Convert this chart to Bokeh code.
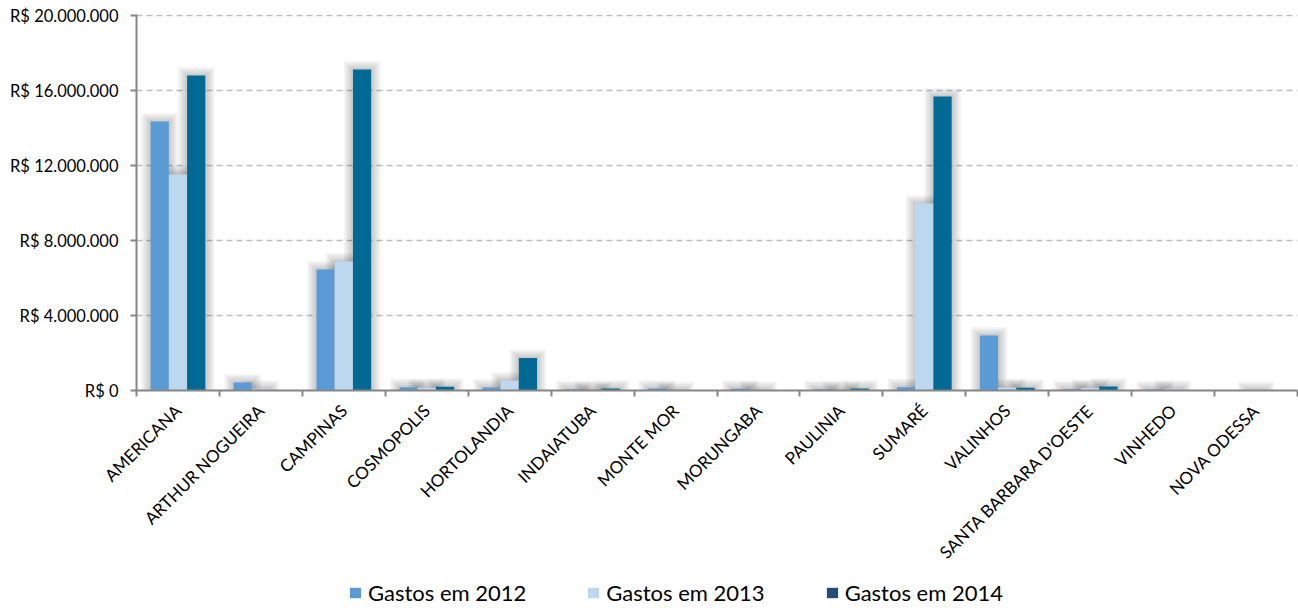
import math
from bokeh.plotting import figure
from bokeh.layouts import column
from bokeh.models import Range1d, FixedTicker, Legend, LegendItem
from bokeh.embed import file_html
from bokeh.resources import INLINE

cities = ["AMERICANA", "ARTHUR NOGUEIRA", "CAMPINAS", "COSMOPOLIS", "HORTOLANDIA",
          "INDAIATUBA", "MONTE MOR", "MORUNGABA", "PAULINIA", "SUMARÉ", "VALINHOS",
          "SANTA BARBARA D'OESTE", "VINHEDO", "NOVA ODESSA"]
gastos_2012 = [14350000, 430000, 6450000, 180000, 160000, 70000, 110000, 100000, 70000,
               180000, 2930000, 70000, 60000, 0]
gastos_2013 = [11520000, 100000, 6880000, 150000, 530000, 20000, 20000, 40000, 10000,
               9970000, 160000, 140000, 100000, 30000]
gastos_2014 = [16800000, 0, 17120000, 200000, 1740000, 110000, 0, 0, 110000,
               15680000, 150000, 220000, 0, 0]
series_names = ["Gastos em 2012", "Gastos em 2013", "Gastos em 2014"]
bar_colors = ["#5B9BD5", "#BDD7EE", "#006A94"]
legend_colors = ["#5B9BD5", "#BDD7EE", "#1F4E79"]
y_ticks = [0, 4000000, 8000000, 12000000, 16000000, 20000000]
y_tick_labels = ["R$ 0", "R$ 4.000.000", "R$ 8.000.000", "R$ 12.000.000",
                 "R$ 16.000.000", "R$ 20.000.000"]

FONT = "Lato"
n = len(cities)
centers = [i + 0.5 for i in range(n)]
bw = 0.22
offsets = [-bw, 0.0, bw]

p = figure(width=1298, height=576, x_range=Range1d(0, n), y_range=Range1d(0, 20060000),
           output_backend="svg", toolbar_location=None,
           min_border_left=136, min_border_right=1, min_border_top=14, min_border_bottom=186)
p.outline_line_color = None
p.background_fill_color = "white"
p.border_fill_color = "white"

series = [gastos_2012, gastos_2013, gastos_2014]

# soft glow shadows behind bars
for vals, off in zip(series, offsets):
    xs = [c + off for c in centers]
    for k in range(1, 5):
        tops = [v + k * 110000 if v > 0 else 0 for v in vals]
        p.vbar(x=xs, top=tops, bottom=0, width=bw + 0.055 * k,
               fill_color="black", fill_alpha=0.05, line_color=None)

for vals, off, col in zip(series, offsets, bar_colors):
    xs = [c + off for c in centers]
    p.vbar(x=xs, top=vals, bottom=0, width=bw, fill_color=col, line_color=None)

# grid
p.xgrid.visible = False
p.ygrid.ticker = FixedTicker(ticks=y_ticks[1:])
p.ygrid.grid_line_color = "#BFBFBF"
p.ygrid.grid_line_dash = "6 4"
p.ygrid.grid_line_width = 1.5

# y axis
p.yaxis.ticker = FixedTicker(ticks=y_ticks)
p.yaxis.major_label_overrides = {v: s for v, s in zip(y_ticks, y_tick_labels)}
p.yaxis.axis_line_color = "#868686"
p.yaxis.axis_line_width = 2
p.yaxis.major_tick_line_color = "#868686"
p.yaxis.major_tick_line_width = 2
p.yaxis.major_tick_out = 6
p.yaxis.major_tick_in = 0
p.yaxis.minor_tick_line_color = None
p.yaxis.major_label_text_font = FONT
p.yaxis.major_label_text_font_size = "16.5px"
p.yaxis.major_label_text_color = "#000000"
p.yaxis.major_label_standoff = 12

# x axis
p.xaxis.ticker = FixedTicker(ticks=centers, minor_ticks=list(range(n + 1)))
p.xaxis.major_label_overrides = {c: name for c, name in zip(centers, cities)}
p.xaxis.major_label_orientation = math.pi / 4
p.xaxis.axis_line_color = "#868686"
p.xaxis.axis_line_width = 2
p.xaxis.major_tick_line_color = None
p.xaxis.minor_tick_line_color = "#868686"
p.xaxis.minor_tick_line_width = 2
p.xaxis.minor_tick_out = 6
p.xaxis.minor_tick_in = 0
p.xaxis.major_label_text_font = FONT
p.xaxis.major_label_text_font_size = "17px"
p.xaxis.major_label_text_color = "#000000"
p.xaxis.major_label_standoff = 11

# legend strip (separate small figure below the chart)
lf = figure(width=1298, height=32, x_range=Range1d(0, 1), y_range=Range1d(0, 1),
            output_backend="svg", toolbar_location=None,
            min_border_left=0, min_border_right=0, min_border_top=0, min_border_bottom=0)
lf.axis.visible = False
lf.grid.visible = False
lf.outline_line_color = None
lf.border_fill_color = "white"
lf.background_fill_color = "white"
items = []
for name, col in zip(series_names, legend_colors):
    r = lf.vbar(x=[0.5], top=[-20], bottom=-30, width=0.01, fill_color=col, line_color=None)
    items.append(LegendItem(label=name, renderers=[r]))
legend = Legend(items=items, orientation="horizontal", location=(212, 2),
                label_text_font=FONT, label_text_font_size="22px", label_text_color="#000000",
                glyph_width=14, glyph_height=13, label_standoff=6, spacing=60,
                border_line_color=None, background_fill_alpha=0,
                padding=2, margin=0, label_height=22)
lf.add_layout(legend, "center")

open("out.html", "w").write(file_html(column(p, lf, spacing=0), INLINE))
